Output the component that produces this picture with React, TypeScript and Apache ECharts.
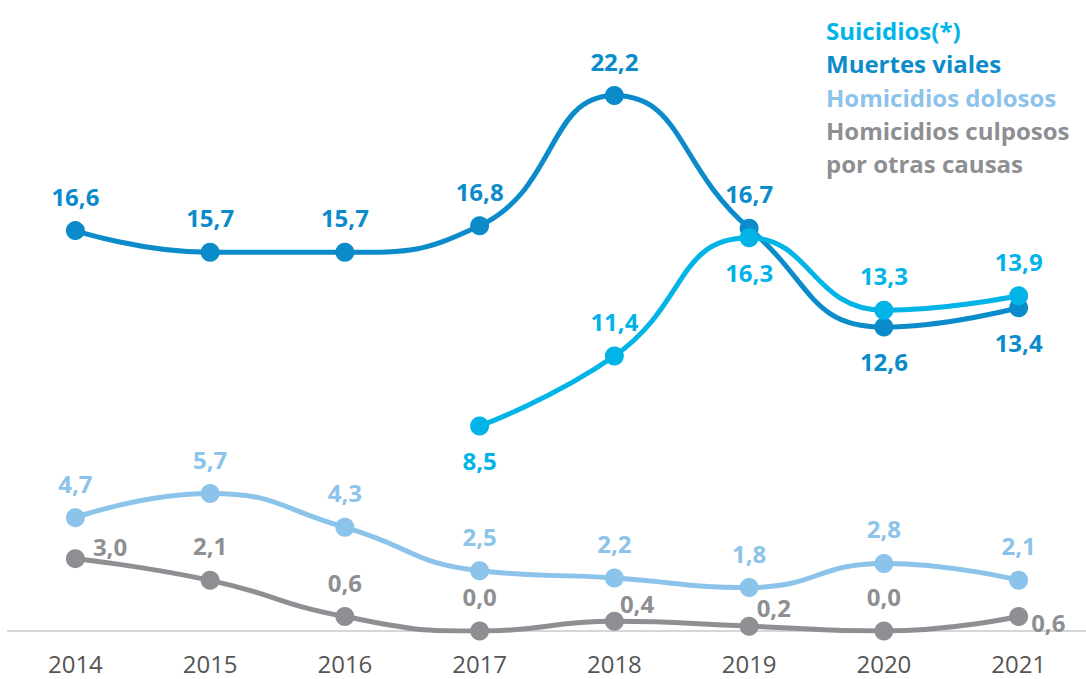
import React, { useEffect, useRef } from "react";
import * as echarts from "echarts";

const years = ["2014", "2015", "2016", "2017", "2018", "2019", "2020", "2021"];
const suicidios = [null, null, null, 8.5, 11.4, 16.3, 13.3, 13.9];
const muertesViales = [16.6, 15.7, 15.7, 16.8, 22.2, 16.7, 12.6, 13.4];
const homicidiosDolosos = [4.7, 5.7, 4.3, 2.5, 2.2, 1.8, 2.8, 2.1];
const homicidiosCulposos = [3.0, 2.1, 0.6, 0.0, 0.4, 0.2, 0.0, 0.6];

const suicidiosPos = ["top", "top", "top", "bottom", "top", "bottom", "top", "top"];
const muertesPos = ["top", "top", "top", "top", "top", "top", "bottom", "bottom"];
const culposPos = ["right", "top", "top", "top", "right", "right", "top", "right"];
const culposOffsets = [[0, -12], [0, 0], [0, 0], [0, 0], [-12, -18], [-10, -19], [0, 0], [-5, 6]];

const C_SUI = "#00b4e8";
const C_MUE = "#0c8bcb";
const C_DOL = "#8cc3ea";
const C_CUL = "#8e8f93";

const fmt = (p: any) => (p.value == null ? "" : Number(p.value).toFixed(1).replace(".", ","));
const FONT = "'Open Sans', sans-serif";

function labelStyle(color: string) {
  return { show: true, color, fontFamily: FONT, fontWeight: "bold", fontSize: 24, formatter: fmt, distance: 13 };
}

export default function App() {
  const ref = useRef<HTMLDivElement>(null);
  useEffect(() => {
    const chart = echarts.init(ref.current!, null, { renderer: "svg" });
    const mk = (vals: (number | null)[], posArr?: string[], offs?: number[][]) =>
      vals.map((v, i) => {
        const item: any = { value: v };
        if (posArr || offs) {
          item.label = {};
          if (posArr) item.label.position = posArr[i];
          if (offs) item.label.offset = offs[i];
          if (posArr && posArr[i] === "right") item.label.distance = 8;
        }
        return item;
      });
    const common = { type: "line", smooth: true, symbol: "circle", symbolSize: 19 };
    const legendFont = `bold 24px ${FONT}`;
    chart.setOption({
      animation: false,
      grid: { left: 8, right: 0, top: 28, bottom: 48 },
      xAxis: {
        type: "category",
        data: years,
        boundaryGap: true,
        axisLine: { show: true, lineStyle: { color: "#d6d6d6", width: 2 } },
        axisTick: { show: false },
        axisLabel: { color: "#555", fontSize: 24, fontFamily: FONT, margin: 20 },
      },
      yAxis: { type: "value", min: 0, max: 25, show: false, splitLine: { show: false } },
      series: [
        {
          ...common,
          name: "Muertes viales",
          data: mk(muertesViales, muertesPos),
          itemStyle: { color: C_MUE },
          lineStyle: { color: C_MUE, width: 5 },
          label: labelStyle(C_MUE),
          z: 2,
        },
        {
          ...common,
          name: "Suicidios(*)",
          data: mk(suicidios, suicidiosPos),
          itemStyle: { color: C_SUI },
          lineStyle: { color: C_SUI, width: 5 },
          label: labelStyle(C_SUI),
          z: 3,
        },
        {
          ...common,
          name: "Homicidios dolosos",
          data: mk(homicidiosDolosos),
          itemStyle: { color: C_DOL },
          lineStyle: { color: C_DOL, width: 5 },
          label: { ...labelStyle(C_DOL), position: "top" },
          z: 2,
        },
        {
          ...common,
          name: "Homicidios culposos por otras causas",
          data: mk(homicidiosCulposos, culposPos, culposOffsets),
          itemStyle: { color: C_CUL },
          lineStyle: { color: C_CUL, width: 5 },
          label: { ...labelStyle(C_CUL), position: "top" },
          z: 2,
        },
      ],
      graphic: [
        { type: "text", left: 826, top: 18, style: { text: "Suicidios(*)", fill: C_SUI, font: legendFont } },
        { type: "text", left: 826, top: 51, style: { text: "Muertes viales", fill: C_MUE, font: legendFont } },
        { type: "text", left: 826, top: 85, style: { text: "Homicidios dolosos", fill: C_DOL, font: legendFont } },
        { type: "text", left: 826, top: 118, style: { text: "Homicidios culposos", fill: C_CUL, font: legendFont } },
        { type: "text", left: 826, top: 151, style: { text: "por otras causas", fill: C_CUL, font: legendFont } },
      ],
    });
    return () => chart.dispose();
  }, []);
  return <div ref={ref} style={{ width: 1086, height: 679, position: "absolute", left: 0, top: 0 }} />;
}
